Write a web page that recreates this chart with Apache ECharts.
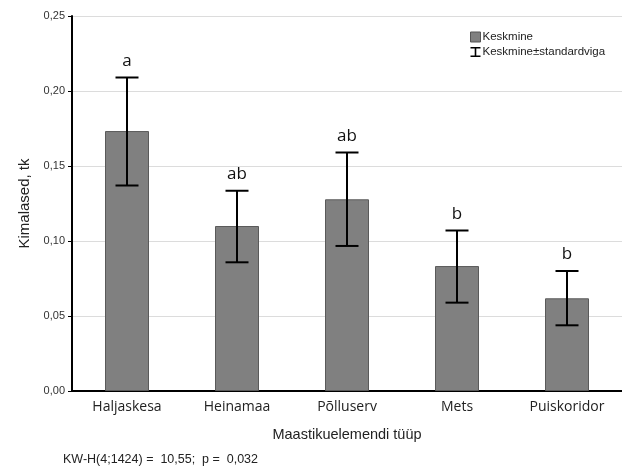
<!DOCTYPE html>
<html><head><meta charset="utf-8">
<script src="https://cdn.jsdelivr.net/npm/echarts@6/dist/echarts.min.js"></script>
<style>html,body{margin:0;padding:0;background:#fff}#c{width:622px;height:467px}</style>
</head><body><div id="c"></div>
<script>
const categories = ["Haljaskesa","Heinamaa","Põlluserv","Mets","Puiskoridor"];
const means = [0.1733, 0.110, 0.1278, 0.0833, 0.0618];
const errLow = [0.137, 0.0858, 0.0967, 0.0589, 0.0438];
const errHigh = [0.209, 0.1335, 0.159, 0.107, 0.080];
const groupLetters = ["a","ab","ab","b","b"];
const yTicks = [0, 0.05, 0.10, 0.15, 0.20, 0.25];

const chart = echarts.init(document.getElementById('c'), null, {renderer:'canvas'});
const errData = categories.map((c,i)=>[i, errLow[i], errHigh[i], groupLetters[i]]);
const fmt = v => v.toFixed(2).replace('.', ',');

chart.setOption({
  animation:false,
  grid:{left:72, top:16, width:555, height:375, containLabel:false},
  legend:{
    orient:'vertical', left:465, top:26, itemGap:3, itemWidth:10, itemHeight:10,
    textStyle:{fontFamily:'Liberation Sans', fontSize:11.5, color:'#222', padding:[0,0,0,-3]},
    data:[
      {name:'Keskmine', icon:'rect', itemStyle:{color:'#808080', borderColor:'#555', borderWidth:1}},
      {name:'Keskmine±standardviga', icon:'path://M0,0 L10,0 L10,1.6 L5.8,1.6 L5.8,8.4 L10,8.4 L10,10 L0,10 L0,8.4 L4.2,8.4 L4.2,1.6 L0,1.6 Z', itemStyle:{color:'#000'}}
    ]
  },
  xAxis:{
    type:'category', data:categories,
    name:'Maastikuelemendi tüüp', nameLocation:'middle', nameGap:36,
    nameTextStyle:{fontFamily:'Liberation Sans', fontSize:14.5, color:'#222'},
    axisLine:{lineStyle:{color:'#000', width:2}},
    axisTick:{show:true, alignWithLabel:true, inside:true, length:3, lineStyle:{color:'#000'}},
    axisLabel:{fontFamily:'Open Sans', fontSize:14, color:'#222', margin:9}
  },
  yAxis:{
    type:'value', min:0, max:0.25, interval:0.05,
    name:'Kimalased, tk', nameLocation:'middle', nameGap:40, nameRotate:90,
    nameTextStyle:{fontFamily:'Liberation Sans', fontSize:15, color:'#222'},
    axisLine:{show:true, lineStyle:{color:'#000', width:2}},
    axisTick:{show:true, length:4, lineStyle:{color:'#000'}},
    axisLabel:{fontFamily:'Liberation Sans', fontSize:11, color:'#333', margin:7,
      formatter:v=>fmt(v)},
    splitLine:{lineStyle:{color:'#dcdcdc', width:1}}
  },
  series:[
    {
      name:'Keskmine', type:'bar', data:means, barWidth:44,
      itemStyle:{color:'#808080', borderColor:'#5a5a5a', borderWidth:1}
    },
    {
      name:'Keskmine±standardviga', type:'custom', data:errData, z:10,
      itemStyle:{color:'#000'},
      renderItem:(params, api)=>{
        const x = api.value(0);
        const lo = api.coord([x, api.value(1)]);
        const hi = api.coord([x, api.value(2)]);
        const hw = 11.5;
        const st = {stroke:'#000', lineWidth:2};
        return {type:'group', children:[
          {type:'line', shape:{x1:hi[0], y1:hi[1], x2:lo[0], y2:lo[1]}, style:st},
          {type:'line', shape:{x1:hi[0]-hw, y1:hi[1], x2:hi[0]+hw, y2:hi[1]}, style:st},
          {type:'line', shape:{x1:lo[0]-hw, y1:lo[1], x2:lo[0]+hw, y2:lo[1]}, style:st},
          {type:'text', style:{text:groupLetters[params.dataIndex], x:hi[0], y:hi[1]-8,
            align:'center', verticalAlign:'bottom', fontFamily:'Open Sans', fontSize:17, fill:'#111'}}
        ]};
      }
    }
  ],
  graphic:[
    {type:'text', left:63, top:453, style:{text:'KW-H(4;1424) =  10,55;  p =  0,032',
      fontFamily:'Liberation Sans', fontSize:12.5, fill:'#222'}}
  ]
});
</script></body></html>
